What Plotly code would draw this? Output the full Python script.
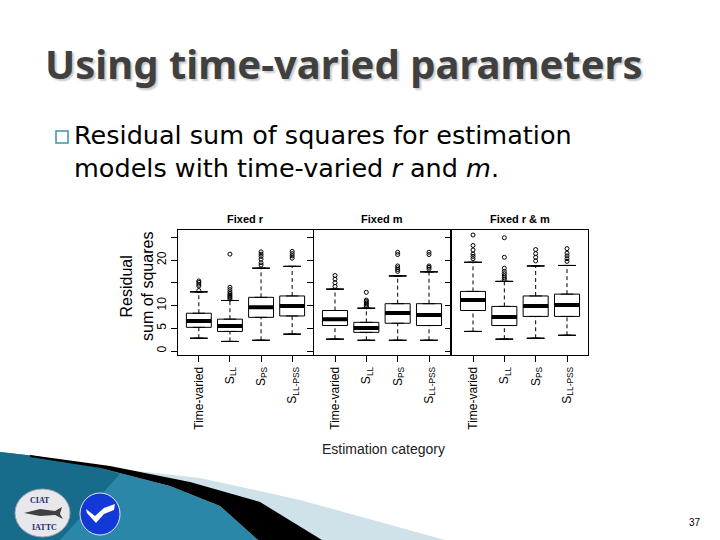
import plotly.graph_objects as go

# ---------------- data ----------------
categories = ["Time-varied", "S<sub>LL</sub>", "S<sub>PS</sub>", "S<sub>LL-PSS</sub>"]
positions = [1, 2, 3, 4]
panel_titles = ["Fixed r", "Fixed m", "Fixed r &amp; m"]
y_tick_vals = [0, 5, 10, 15, 20, 25]
y_tick_text = ["0", "5", "10", "", "20", ""]

fixed_r_q1 = [5.2, 4.3, 7.4, 7.7]
fixed_r_median = [6.6, 5.5, 9.6, 9.9]
fixed_r_q3 = [8.3, 7.0, 11.8, 12.1]
fixed_r_lower = [2.8, 2.1, 2.35, 3.7]
fixed_r_upper = [13.0, 11.1, 18.2, 18.6]
fixed_r_outliers = [
    [13.3, 14.3, 14.7, 15.1, 15.4],
    [11.4, 11.7, 12.0, 12.3, 12.6, 13.0, 13.5, 14.0, 21.3],
    [18.9, 19.4, 20.2, 20.8, 21.3, 21.8],
    [20.4, 20.9, 21.4, 21.9],
]

fixed_m_q1 = [5.6, 4.1, 6.1, 5.6]
fixed_m_median = [7.0, 5.05, 8.35, 7.9]
fixed_m_q3 = [8.9, 6.3, 10.4, 10.4]
fixed_m_lower = [2.6, 2.35, 2.35, 2.35]
fixed_m_upper = [13.6, 9.4, 16.5, 17.4]
fixed_m_outliers = [
    [14.2, 15.0, 15.8, 16.6],
    [9.7, 10.0, 10.3, 10.6, 10.9, 11.2, 12.9],
    [17.5, 17.9, 18.3, 18.7, 21.2, 21.7],
    [18.0, 18.4, 18.7, 21.2, 21.7],
]

fixed_rm_q1 = [8.9, 5.6, 7.6, 7.6]
fixed_rm_median = [11.2, 7.5, 9.9, 10.1]
fixed_rm_q3 = [13.1, 9.8, 12.1, 12.5]
fixed_rm_lower = [4.3, 2.6, 2.8, 3.45]
fixed_rm_upper = [19.5, 15.3, 18.7, 18.8]
fixed_rm_outliers = [
    [20.3, 20.8, 21.3, 22.2, 23.2, 25.5],
    [15.7, 16.1, 16.5, 17.0, 17.5, 18.2, 20.6, 24.9],
    [19.8, 20.6, 21.4, 22.3],
    [19.7, 20.3, 20.9, 21.5, 22.5],
]

panels = [
    dict(q1=fixed_r_q1, median=fixed_r_median, q3=fixed_r_q3,
         lower=fixed_r_lower, upper=fixed_r_upper, outliers=fixed_r_outliers),
    dict(q1=fixed_m_q1, median=fixed_m_median, q3=fixed_m_q3,
         lower=fixed_m_lower, upper=fixed_m_upper, outliers=fixed_m_outliers),
    dict(q1=fixed_rm_q1, median=fixed_rm_median, q3=fixed_rm_q3,
         lower=fixed_rm_lower, upper=fixed_rm_upper, outliers=fixed_rm_outliers),
]

# ---------------- layout helpers ----------------
W, H = 720, 540


def px(x):
    return x / W


def py(y):
    return 1 - y / H


x_domains = [(178, 313), (314, 450), (452, 588)]
y_top, y_bot = 230, 355
y_range = [-0.88, 26.6]
x_range = [0.33, 4.67]
CHART_FONT = "Liberation Sans, Arial, sans-serif"

fig = go.Figure()

for k, p in enumerate(panels):
    xa = "x" if k == 0 else f"x{k + 1}"
    ya = "y" if k == 0 else f"y{k + 1}"
    # dashed whiskers
    wx, wy = [], []
    for i, pos in enumerate(positions):
        wx += [pos, pos, None, pos, pos, None]
        wy += [p["lower"][i], p["q1"][i], None, p["q3"][i], p["upper"][i], None]
    fig.add_trace(go.Scatter(x=wx, y=wy, mode="lines",
                             line=dict(color="black", width=1, dash="4px,3px"),
                             xaxis=xa, yaxis=ya, hoverinfo="skip", showlegend=False))
    # whisker caps
    for fence in (p["lower"], p["upper"]):
        fig.add_trace(go.Box(x=positions, q1=fence, median=fence, q3=fence,
                             lowerfence=fence, upperfence=fence, width=0.56,
                             line=dict(color="black", width=1),
                             fillcolor="rgba(0,0,0,0)", boxpoints=False,
                             xaxis=xa, yaxis=ya, hoverinfo="skip", showlegend=False))
    # boxes
    fig.add_trace(go.Box(x=positions, q1=p["q1"], median=p["median"], q3=p["q3"],
                         lowerfence=p["q1"], upperfence=p["q3"], width=0.8,
                         line=dict(color="black", width=1), fillcolor="white",
                         boxpoints=False, xaxis=xa, yaxis=ya,
                         hoverinfo="skip", showlegend=False))
    # thick medians
    fig.add_trace(go.Box(x=positions, q1=p["median"], median=p["median"], q3=p["median"],
                         lowerfence=p["median"], upperfence=p["median"], width=0.8,
                         line=dict(color="black", width=4), fillcolor="black",
                         boxpoints=False, xaxis=xa, yaxis=ya,
                         hoverinfo="skip", showlegend=False))
    # outliers
    ox, oy = [], []
    for i, pos in enumerate(positions):
        ox += [pos] * len(p["outliers"][i])
        oy += p["outliers"][i]
    fig.add_trace(go.Scatter(x=ox, y=oy, mode="markers",
                             marker=dict(symbol="circle-open", size=4, color="black",
                                         line=dict(width=1)),
                             xaxis=xa, yaxis=ya, hoverinfo="skip", showlegend=False))

axis_common = dict(showline=True, linecolor="black", linewidth=1, mirror=True,
                   ticks="outside", ticklen=6, tickcolor="black", tickwidth=1,
                   showgrid=False, zeroline=False, fixedrange=True)

layout_axes = {}
for k, (x0, x1) in enumerate(x_domains):
    sx = "" if k == 0 else str(k + 1)
    layout_axes[f"xaxis{sx}"] = dict(
        axis_common, domain=[px(x0), px(x1)], range=x_range,
        anchor=f"y{sx}", tickvals=positions, ticktext=categories, tickangle=-90,
        tickfont=dict(family=CHART_FONT, size=12, color="black"))
    layout_axes[f"yaxis{sx}"] = dict(
        axis_common, domain=[py(y_bot), py(y_top)], range=y_range,
        anchor=f"x{sx}", tickvals=y_tick_vals, ticktext=y_tick_text,
        tickangle=-90, showticklabels=(k == 0),
        tickfont=dict(family=CHART_FONT, size=12, color="black"))


def note(text, x, y, font, xanchor="center", yanchor="middle", **kw):
    return dict(text=text, x=px(x), y=py(y), xref="paper", yref="paper",
                xanchor=xanchor, yanchor=yanchor, showarrow=False, font=font, **kw)


annotations = [
    note("Using time-varied parameters", 43, 64,
         dict(family="Noto Sans", size=40, color="#404040", weight="bold",
              shadow="2px 2px 2px #c8c8c8"), xanchor="left"),
    note("Residual sum of squares for estimation", 72, 135,
         dict(family="DejaVu Sans", size=25.5, color="black"), xanchor="left"),
    note("models with time-varied <i>r</i> and <i>m</i>.", 72, 168,
         dict(family="DejaVu Sans", size=25.5, color="black"), xanchor="left"),
    note("Residual<br>sum of squares", 137, 287,
         dict(family=CHART_FONT, size=16, color="black"), textangle=-90),
    note("Estimation category", 383, 449,
         dict(family=CHART_FONT, size=14, color="#222222")),
    note("37", 695, 522, dict(family=CHART_FONT, size=10, color="black")),
    note("<b>CIAT</b>", 40, 500, dict(family="Liberation Serif", size=8, color="#1a2a6a")),
    note("<b>IATTC</b>", 44, 527, dict(family="Liberation Serif", size=8, color="#1a2a6a")),
]
for k, (x0, x1) in enumerate(x_domains):
    annotations.append(note(f"<b>{panel_titles[k]}</b>", (x0 + x1) / 2, 219,
                            dict(family=CHART_FONT, size=11, color="black")))


def path(points):
    return "M " + " L ".join(f"{px(a):.4f},{py(b):.4f}" for a, b in points) + " Z"


shapes = [
    # bullet square
    dict(type="rect", xref="paper", yref="paper", x0=px(56), x1=px(68),
         y0=py(143), y1=py(131), line=dict(color="#3a93a6", width=1.5)),
    # light blue band
    dict(type="path", xref="paper", yref="paper",
         path=path([(110, 468), (200, 478), (300, 500), (380, 522), (445, 540),
                    (322, 540), (250, 508), (180, 486), (110, 471)]),
         fillcolor="#cfe2ea", line=dict(width=0)),
    # teal area
    dict(type="path", xref="paper", yref="paper",
         path=path([(0, 452), (35, 456), (100, 468), (170, 486), (220, 506),
                    (258, 540), (0, 540)]),
         fillcolor="#2a87a8", line=dict(width=0)),
    dict(type="path", xref="paper", yref="paper",
         path=path([(0, 452), (35, 456), (100, 468), (120, 474), (60, 540), (0, 540)]),
         fillcolor="#176c8c", line=dict(width=0)),
    # black band
    dict(type="path", xref="paper", yref="paper",
         path=path([(30, 455), (110, 466), (190, 482), (260, 502), (322, 540),
                    (258, 540), (220, 506), (170, 486), (100, 468), (30, 457)]),
         fillcolor="black", line=dict(width=0)),
    # CIAT logo
    dict(type="circle", xref="paper", yref="paper", x0=px(15), x1=px(70),
         y0=py(537), y1=py(489), fillcolor="#e8e8ec", line=dict(color="#9aa0a8", width=1)),
    dict(type="path", xref="paper", yref="paper",
         path=path([(24, 513), (40, 509), (55, 511), (62, 507), (60, 514), (63, 519),
                    (55, 515), (40, 516)]),
         fillcolor="#404040", line=dict(width=0)),
    # blue logo
    dict(type="circle", xref="paper", yref="paper", x0=px(80), x1=px(120),
         y0=py(535), y1=py(493), fillcolor="#1238d8", line=dict(color="#e0e6f8", width=1)),
    dict(type="path", xref="paper", yref="paper",
         path=path([(86, 509), (95, 516), (104, 508), (115, 504), (114, 510),
                    (104, 514), (96, 523), (87, 513)]),
         fillcolor="white", line=dict(width=0)),
]

fig.update_layout(
    width=W, height=H, autosize=False,
    margin=dict(l=0, r=0, t=0, b=0),
    paper_bgcolor="white", plot_bgcolor="white",
    showlegend=False, boxmode="overlay",
    annotations=annotations, shapes=shapes,
    **layout_axes,
)

fig.write_html("out.html", config={"displayModeBar": False},
               post_script="document.body.style.margin='0';")
